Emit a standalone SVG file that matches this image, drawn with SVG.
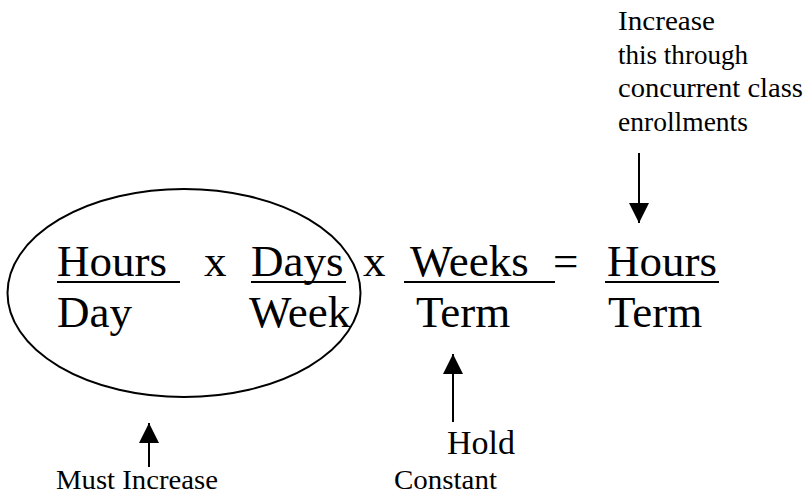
<svg xmlns="http://www.w3.org/2000/svg" width="805" height="496" viewBox="0 0 805 496">
<style>
text{font-family:"Liberation Serif","Times New Roman",serif;fill:#000}
.big{font-size:45px}
.note{font-size:27px}
.ul{stroke:#000;stroke-width:2}
.conn{stroke:#000;stroke-width:2;fill:none}
</style>
<defs>
<marker id="ah" viewBox="0 0 20 20" refX="20" refY="10" markerWidth="20" markerHeight="20" markerUnits="userSpaceOnUse" orient="auto">
<path d="M0,0 L20,10 L0,20 Z" fill="#000"/>
</marker>
</defs>
<rect width="805" height="496" fill="#fff"/>
<g id="ellipse">
<ellipse cx="184" cy="293" rx="176.5" ry="104" fill="none" stroke="#000" stroke-width="2"/>
</g>
<g id="hours-per-day">
<text class="big" x="57" y="276">Hours</text>
<line class="ul" x1="57" y1="282" x2="180" y2="282"/>
<text class="big" x="57" y="327">Day</text>
</g>
<g id="times1"><text class="big" x="204" y="276">x</text></g>
<g id="days-per-week">
<text class="big" x="251" y="276">Days</text>
<line class="ul" x1="251" y1="282" x2="346" y2="282"/>
<text class="big" x="249" y="327">Week</text>
</g>
<g id="times2"><text class="big" x="363" y="276">x</text></g>
<g id="weeks-per-term">
<text class="big" x="410" y="276">Weeks</text>
<line class="ul" x1="404" y1="282" x2="555" y2="282"/>
<text class="big" x="416" y="327">Term</text>
</g>
<g id="equals"><text class="big" x="553" y="276">=</text></g>
<g id="hours-per-term">
<text class="big" x="607" y="276">Hours</text>
<line class="ul" x1="605" y1="282" x2="719" y2="282"/>
<text class="big" x="608" y="327">Term</text>
</g>
<g id="note-increase">
<text class="note" x="618" y="30" textLength="97" lengthAdjust="spacingAndGlyphs">Increase</text>
<text class="note" x="618" y="64" textLength="130" lengthAdjust="spacingAndGlyphs">this through</text>
<text class="note" x="618" y="97" textLength="185" lengthAdjust="spacingAndGlyphs">concurrent class</text>
<text class="note" x="618" y="131" textLength="130" lengthAdjust="spacingAndGlyphs">enrollments</text>
</g>
<g id="note-must">
<text class="note" x="56" y="489" textLength="162" lengthAdjust="spacingAndGlyphs">Must Increase</text>
</g>
<g id="note-hold">
<text x="447" y="454" style="font-size:34px" textLength="68" lengthAdjust="spacingAndGlyphs">Hold</text>
<text class="note" x="394" y="489" textLength="103" lengthAdjust="spacingAndGlyphs">Constant</text>
</g>
<g id="connectors">
<line class="conn" x1="639" y1="153" x2="639" y2="223" marker-end="url(#ah)"/>
<line class="conn" x1="149" y1="467" x2="149" y2="423" marker-end="url(#ah)"/>
<line class="conn" x1="453" y1="422" x2="453" y2="354" marker-end="url(#ah)"/>
</g>
</svg>
